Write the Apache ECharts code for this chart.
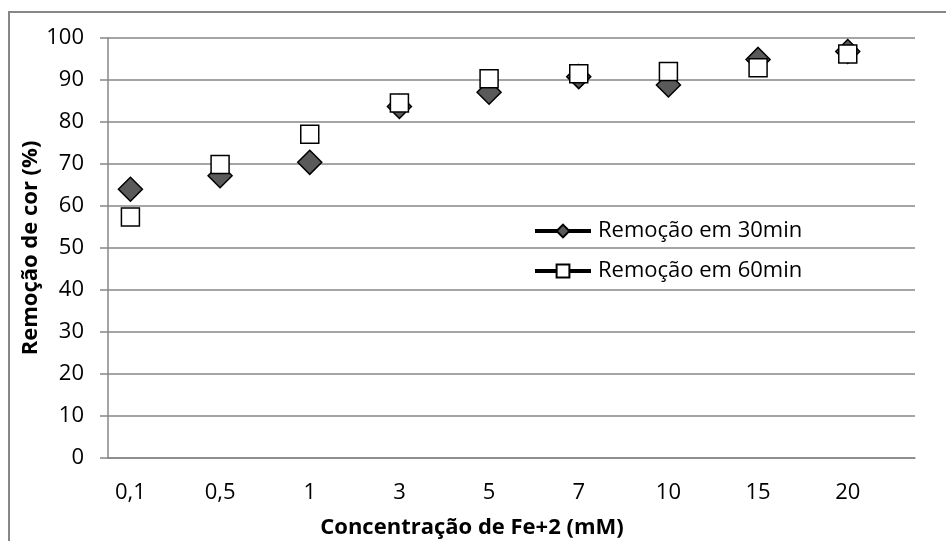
<!DOCTYPE html>
<html>
<head>
<meta charset="utf-8">
<script src="https://cdn.jsdelivr.net/npm/echarts@6/dist/echarts.min.js"></script>
<style>
  html, body { margin: 0; padding: 0; background: #fff; }
  #chart { width: 946px; height: 541px; }
</style>
</head>
<body>
<div id="chart"></div>
<script>
// concentracao de Fe+2 (mM)
var categories = ['0,1', '0,5', '1', '3', '5', '7', '10', '15', '20'];
// remocao de cor (%)
var rem30 = [64.0, 67.2, 70.4, 83.7, 87.1, 90.8, 88.8, 94.9, 96.8];
var rem60 = [57.4, 69.9, 77.1, 84.5, 90.3, 91.5, 92.0, 92.9, 96.2];
var seriesNames = ['Remoção em 30min', 'Remoção em 60min'];

// excel chart has an empty slot after every category (ticks every half step)
var axisData = [];
var data30 = [];
var data60 = [];
for (var i = 0; i < categories.length; i++) {
    axisData.push(categories[i], '');
    data30.push(rem30[i], null);
    data60.push(rem60[i], null);
}

var font = '"Open Sans", sans-serif';
var gray = '#878787';

var myChart = echarts.init(document.getElementById('chart'));
var option = {
    animation: false,
    backgroundColor: '#fff',
    grid: { left: 108, right: 31, top: 38, bottom: 83 },
    graphic: [
        {
            type: 'rect',
            shape: { x: 9, y: 12, width: 1000, height: 600 },
            style: { fill: 'none', stroke: gray, lineWidth: 2 }
        },
        {
            type: 'text',
            x: 472, y: 528,
            style: {
                text: 'Concentração de Fe+2 (mM)',
                font: 'bold 22px ' + font,
                fill: '#000',
                align: 'center',
                verticalAlign: 'middle'
            }
        }
    ],
    legend: {
        orient: 'vertical',
        left: 533,
        top: 220,
        padding: 0,
        itemWidth: 56,
        itemHeight: 16,
        itemGap: 18,
        data: seriesNames,
        lineStyle: { color: '#000', width: 4, opacity: 1 },
        textStyle: { fontFamily: font, fontSize: 22, color: '#000', padding: [0, 0, 0, 2] }
    },
    xAxis: {
        type: 'category',
        data: axisData,
        boundaryGap: true,
        axisLine: { lineStyle: { color: gray, width: 1.5 } },
        axisTick: { interval: 0, length: 9, lineStyle: { color: gray, width: 1.5 } },
        axisLabel: { interval: 0, margin: 24, color: '#000', fontFamily: font, fontSize: 22 },
        splitLine: { show: false }
    },
    yAxis: {
        type: 'value',
        min: 0,
        max: 100,
        interval: 10,
        name: 'Remoção de cor (%)',
        nameLocation: 'middle',
        nameGap: 66,
        nameMoveOverlap: false,
        nameTextStyle: { fontFamily: font, fontSize: 22, fontWeight: 'bold', color: '#000' },
        axisLine: { show: true, lineStyle: { color: gray, width: 1.5 } },
        axisTick: { show: true, length: 8, lineStyle: { color: gray, width: 1.5 } },
        axisLabel: { margin: 24, color: '#000', fontFamily: font, fontSize: 22 },
        splitLine: { lineStyle: { color: gray, width: 1.5 } }
    },
    series: [
        {
            name: seriesNames[0],
            type: 'line',
            data: data30,
            symbol: 'diamond',
            symbolSize: 24,
            lineStyle: { opacity: 0 },
            itemStyle: { color: '#5a5a5a', borderColor: '#000', borderWidth: 1.5 }
        },
        {
            name: seriesNames[1],
            type: 'line',
            data: data60,
            symbol: 'rect',
            symbolSize: 18,
            lineStyle: { opacity: 0 },
            itemStyle: { color: '#fff', borderColor: '#000', borderWidth: 1.5 }
        }
    ]
};

myChart.setOption(option, true);
window.addEventListener('resize', function () {
    myChart.resize();
});
</script>
</body>
</html>
